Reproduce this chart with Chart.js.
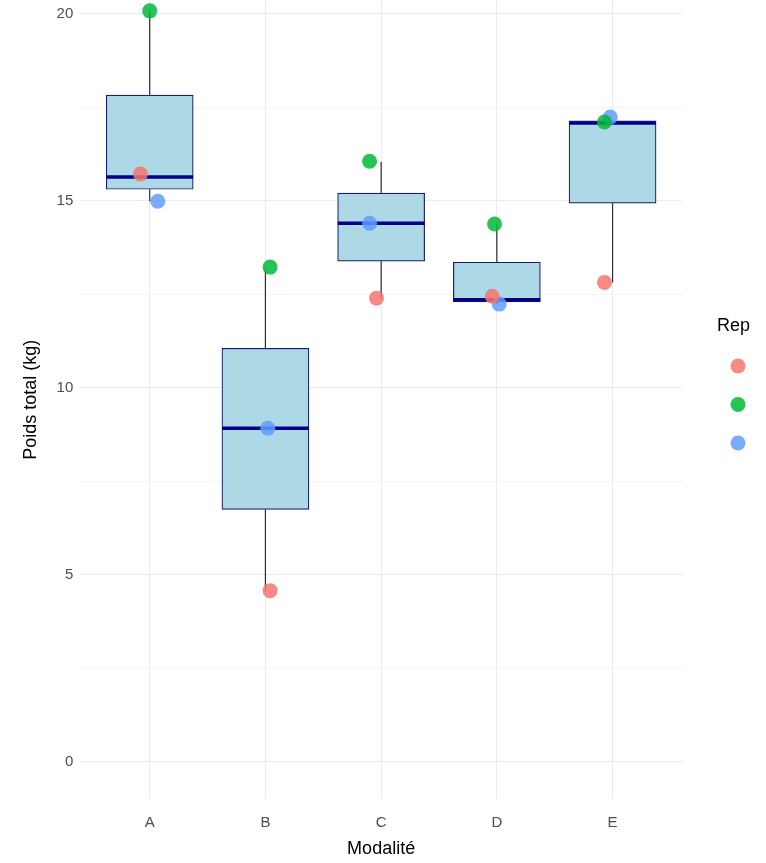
<!DOCTYPE html>
<html>
<head>
<meta charset="utf-8">
<script src="https://cdn.jsdelivr.net/npm/chart.js@4"></script>
<style>
  html, body { margin: 0; padding: 0; background: #ffffff; }
  #wrap { width: 766px; height: 863px; position: relative; }
</style>
</head>
<body>
<div id="wrap"><canvas id="c" width="766" height="863"></canvas></div>
<script>
// ---- data ----
const categories = ['A', 'B', 'C', 'D', 'E'];
const boxQ1     = [15.31, 6.75, 13.39, 12.30, 14.94];
const boxMedian = [15.64, 8.92, 14.40, 12.36, 17.08];
const boxQ3     = [17.83, 11.06, 15.21, 13.36, 17.14];
const whiskerLow  = [14.99, 4.58, 12.37, 12.24, 12.82];
const whiskerHigh = [20.08, 13.20, 16.04, 14.38, 17.14];
const repNames = ['1', '2', '3'];
const rep1Values = [15.72, 4.58, 12.40, 12.45, 12.82];
const rep2Values = [20.08, 13.23, 16.06, 14.38, 17.11];
const rep3Values = [14.99, 8.92, 14.40, 12.24, 17.24];
const rep1Jitter = [-0.08, 0.04, -0.04, -0.04, -0.07];
const rep2Jitter = [0.00, 0.04, -0.10, -0.02, -0.07];
const rep3Jitter = [0.07, 0.02, -0.10, 0.02, -0.02];
const yTicks = [0, 2.5, 5, 7.5, 10, 12.5, 15, 17.5, 20];
const repColors = ['rgba(248,118,109,0.85)', 'rgba(0,186,56,0.85)', 'rgba(97,156,255,0.85)'];

const FONT = "'Liberation Sans', Arial, sans-serif";

const boxData = categories.map((c, i) => ({ x: i + 1, y: [boxQ1[i], boxQ3[i]] }));
function pts(vals, jit) { return vals.map((v, i) => ({ x: i + 1 + jit[i], y: v })); }

const boxExtras = {
  id: 'boxExtras',
  afterDatasetDraw(chart, args) {
    if (args.index !== 0) return;
    const ctx = chart.ctx, xs = chart.scales.x, ys = chart.scales.y;
    const half = (xs.getPixelForValue(1.375) - xs.getPixelForValue(1));
    ctx.save();
    for (let i = 0; i < categories.length; i++) {
      const cx = xs.getPixelForValue(i + 1);
      ctx.strokeStyle = '#2a2a3a';
      ctx.lineWidth = 1.2;
      ctx.beginPath();
      ctx.moveTo(cx, ys.getPixelForValue(boxQ3[i]));
      ctx.lineTo(cx, ys.getPixelForValue(whiskerHigh[i]));
      ctx.moveTo(cx, ys.getPixelForValue(boxQ1[i]));
      ctx.lineTo(cx, ys.getPixelForValue(whiskerLow[i]));
      ctx.stroke();
      ctx.strokeStyle = '#00008B';
      ctx.lineWidth = 3.5;
      const my = ys.getPixelForValue(boxMedian[i]);
      ctx.beginPath();
      ctx.moveTo(cx - half, my);
      ctx.lineTo(cx + half, my);
      ctx.stroke();
    }
    ctx.restore();
  }
};

const legendPlugin = {
  id: 'repLegend',
  afterDraw(chart) {
    const ctx = chart.ctx;
    ctx.save();
    ctx.fillStyle = '#000000';
    ctx.font = '18px ' + FONT;
    ctx.textBaseline = 'middle';
    ctx.textAlign = 'left';
    ctx.fillText('Rep', 717, 326);
    repNames.forEach((n, i) => {
      ctx.fillStyle = repColors[i];
      ctx.beginPath();
      ctx.arc(738, 366 + i * 38.5, 7.5, 0, Math.PI * 2);
      ctx.fill();
    });
    ctx.restore();
  }
};

new Chart(document.getElementById('c'), {
  data: {
    datasets: [
      { type: 'bar', label: 'box', data: boxData, backgroundColor: '#ADD8E6',
        borderColor: '#1c1c6b', borderWidth: 1.2, borderSkipped: false,
        barThickness: 87, order: 2 },
      { type: 'scatter', label: repNames[0], data: pts(rep1Values, rep1Jitter),
        backgroundColor: repColors[0], borderWidth: 0, pointRadius: 7.5, order: 1 },
      { type: 'scatter', label: repNames[1], data: pts(rep2Values, rep2Jitter),
        backgroundColor: repColors[1], borderWidth: 0, pointRadius: 7.5, order: 1 },
      { type: 'scatter', label: repNames[2], data: pts(rep3Values, rep3Jitter),
        backgroundColor: repColors[2], borderWidth: 0, pointRadius: 7.5, order: 1 }
    ]
  },
  options: {
    responsive: false,
    animation: false,
    clip: false,
    layout: { autoPadding: false, padding: { left: 20, right: 84, top: 0, bottom: 3 } },
    plugins: { legend: { display: false }, tooltip: { enabled: false } },
    scales: {
      x: {
        type: 'linear', min: 0.4, max: 5.6, offset: false,
        afterBuildTicks: (s) => { s.ticks = categories.map((c, i) => ({ value: i + 1 })); },
        ticks: { callback: (v) => categories[Math.round(v) - 1] || '', color: '#4D4D4D',
                 font: { size: 15, family: FONT }, padding: 14, maxRotation: 0 },
        grid: { color: '#EBEBEB', lineWidth: 1, drawTicks: false, offset: false },
        border: { display: false },
        title: { display: true, text: 'Modalité', color: '#000000',
                 font: { size: 18, family: FONT }, padding: { top: -7, bottom: 0 } }
      },
      y: {
        type: 'linear', min: -1.0, max: 20.37,
        afterBuildTicks: (s) => { s.ticks = yTicks.map(v => ({ value: v })); },
        afterFit: (s) => { s.paddingTop = 0; },
        ticks: { callback: (v) => (v % 5 === 0 ? String(v) : ''), color: '#4D4D4D',
                 font: { size: 15, family: FONT }, padding: 7 },
        grid: { color: (c) => (c.tick && c.tick.value % 5 === 0 ? '#EBEBEB' : '#F4F4F4'),
                lineWidth: 1, drawTicks: false },
        border: { display: false },
        title: { display: true, text: 'Poids total (kg)', color: '#000000',
                 font: { size: 18, family: FONT }, padding: { top: 0, bottom: 8 } }
      }
    }
  },
  plugins: [boxExtras, legendPlugin]
});
</script>
</body>
</html>
